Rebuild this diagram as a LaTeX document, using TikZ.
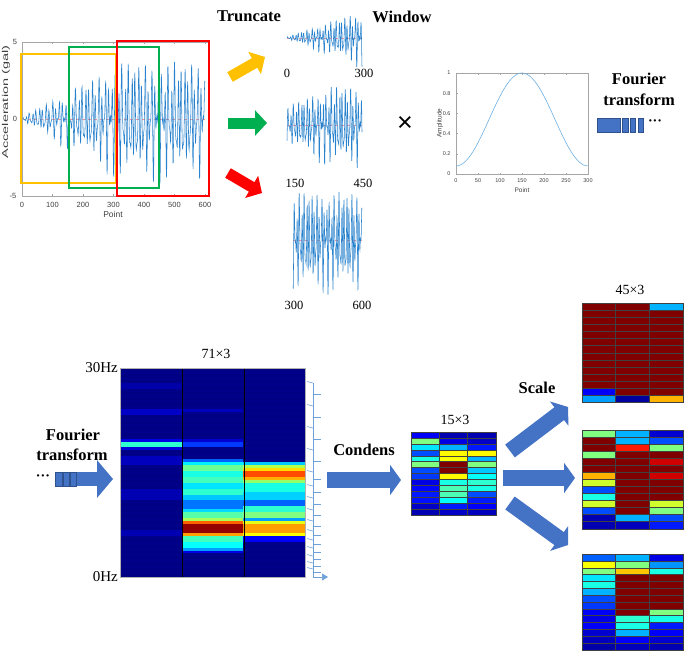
\documentclass[tikz,border=0pt]{standalone}
\usepackage{fontspec}
\setmainfont{Liberation Serif}
\setsansfont{Liberation Sans}
\usepackage{xcolor}
\usepackage{tikz}
\usetikzlibrary{
    arrows.meta
}

\definecolor{sigblue}{RGB}{40,130,205}
\definecolor{winblue}{RGB}{110,175,225}
\definecolor{ppblue}{RGB}{68,114,196}
\definecolor{ppedge}{RGB}{47,82,143}
\definecolor{brkblue}{RGB}{110,160,220}
\definecolor{trorange}{RGB}{255,192,0}
\definecolor{trgreen}{RGB}{0,176,80}
\definecolor{trred}{RGB}{255,0,0}

% jet カラーマップで塗る
\newcommand{\jetfill}[5]{%
  \pgfmathsetmacro{\jr}{max(0,min(1,1.5-abs(4*#5-3)))}%
  \pgfmathsetmacro{\jg}{max(0,min(1,1.5-abs(4*#5-2)))}%
  \pgfmathsetmacro{\jb}{max(0,min(1,1.5-abs(4*#5-1)))}%
  \definecolor{jetc}{rgb}{\jr,\jg,\jb}%
  \fill[jetc] ({#1},{#2}) rectangle ({#3},{#4});}

% 行列ブロック (x, y, セル幅, セル高さ, 値)
\newcommand{\heatblock}[5]{%
  \foreach \va/\vb/\vc [count=\i from 0] in {#5}{%
    \foreach \v [count=\j from 0] in {\va,\vb,\vc}{%
      \jetfill{#1+\j*#3}{#2+\i*#4}{#1+\j*#3+#3}{#2+\i*#4+#4}{\v}%
      \draw[cellline] ({#1+\j*#3},{#2+\i*#4}) rectangle ++(#3,#4);
    }}}

\begin{document}
\begin{tikzpicture}[x=1pt,y=-1pt,
    declare function={env(\t)=0.15+3.6*min(\t,330)/330;
      wv(\t,\k,\p)=sin(mod(\k*\t+\p,6.28319) r);
      acc(\t)=env(\t)*(0.55*wv(\t,0.58,0)+0.35*wv(\t,0.87,0.7)+0.25*wv(\t,0.33,0.17));},
    sig/.style={sigblue, line width=0.55pt},
    zeroline/.style={red!40, dashed, line width=0.4pt},
    axisbox/.style={gray!70, line width=0.4pt},
    ticklbl/.style={font=\sffamily\fontsize{7.5}{8}\selectfont, text=black!75},
    winlbl/.style={font=\sffamily\fontsize{5.5}{6}\selectfont, text=black!75},
    bigbold/.style={font=\bfseries\fontsize{16.5}{18}\selectfont},
    numlbl/.style={font=\fontsize{12.5}{14}\selectfont},
    sizelbl/.style={font=\fontsize{14}{16}\selectfont},
    fat/.style={line width=11pt, -{Triangle[length=12pt,width=25pt]}},
    bluearrow/.style={ppblue, line width=16pt, -{Triangle[length=11pt,width=30pt]}},
    bar/.style={fill=ppblue, draw=ppedge, line width=0.5pt},
    cellline/.style={draw=black!75, line width=0.4pt},
    brk/.style={brkblue, line width=0.6pt}]
  \useasboundingbox (0,0) rectangle (685,651);

  % 元の加速度波形
  \draw[zeroline] (22,119) -- (207,119);
  \draw[sig] plot[domain=0:600, samples=601] ({22+0.305*\x},{119-15.4*acc(\x)});
  \draw[axisbox] (22,196) -- (22,42) -- (208,42);
  \draw[axisbox] (22,196) -- (208,196);
  \foreach \t in {0,100,...,600} {
    \draw[axisbox] ({22+0.305*\t},196) -- ++(0,-2);
    \draw[axisbox] ({22+0.305*\t},42) -- ++(0,2);
    \node[ticklbl] (xt\t) at ({22+0.305*\t},205) {\t};
  }
  \foreach \yy in {42,119,196} \draw[axisbox] (22,\yy) -- ++(2,0);
  \node[ticklbl] (yt5) at (15,42) {5};
  \node[ticklbl] (yt0) at (15,119) {0};
  \node[ticklbl] (ytm5) at (13,196) {-5};
  \node[ticklbl, font=\sffamily\fontsize{8.5}{9}\selectfont, rotate=90, xscale=1.7] (ylbl) at (6,102) {Acceleration (gal)};
  \node[ticklbl, font=\sffamily\fontsize{8.5}{9}\selectfont] (xlbl) at (113,214) {Point};

  % 切り出し窓
  \draw[trorange, line width=2.2pt] (21,54) rectangle (116,183);
  \draw[trgreen, line width=2.2pt] (69,47) rectangle (159,188);
  \draw[trred, line width=2.2pt] (117,41) rectangle (209,196);

  \node[bigbold] (trunc) at (249,16) {Truncate};
  \node[bigbold] (window) at (402,17) {Window};

  \coordinate (oS) at (230,77);  \coordinate (oE) at (265,57);
  \coordinate (gS) at (228,123); \coordinate (gE) at (267,123);
  \coordinate (rS) at (228,173); \coordinate (rE) at (262,193);
  \draw[fat, trorange] (oS) -- (oE);
  \draw[fat, trgreen] (gS) -- (gE);
  \draw[fat, trred] (rS) -- (rE);

  % 切り出した波形
  \draw[zeroline] (287,38) -- (362,38);
  \draw[sig] plot[domain=0:300, samples=301] ({287+0.25*\x},{38-8*acc(\x)});
  \draw[zeroline] (287,125) -- (362,125);
  \draw[sig] plot[domain=150:450, samples=301] ({287+0.25*(\x-150)},{125-10.5*acc(\x)});
  \draw[zeroline] (293,240) -- (362,240);
  \draw[sig] plot[domain=300:600, samples=301] ({293+0.23*(\x-300)},{240-13*acc(\x)});
  \node[numlbl] (s1a) at (287,73) {0};
  \node[numlbl] (s1b) at (364,73) {300};
  \node[numlbl] (s2a) at (295,183) {150};
  \node[numlbl] (s2b) at (363,183) {450};
  \node[numlbl] (s3a) at (294,305) {300};
  \node[numlbl] (s3b) at (362,305) {600};

  \node[font=\sffamily\fontsize{27}{28}\selectfont] (times) at (405,124) {×};

  % 窓関数
  \draw[axisbox] (456,73) rectangle (588,174);
  \foreach \t in {0,50,...,300} {
    \draw[axisbox] ({456+0.44*\t},174) -- ++(0,-1.5);
    \draw[axisbox] ({456+0.44*\t},73) -- ++(0,1.5);
    \node[winlbl] (wx\t) at ({456+0.44*\t},181) {\t};
  }
  \foreach \a/\l in {0/0,1/0.2,2/0.4,3/0.6,4/0.8,5/1} {
    \draw[axisbox] (456,{174-20.2*\a}) -- ++(1.5,0);
    \node[winlbl, anchor=east] (wy\a) at (454,{174-20.2*\a}) {\l};
  }
  \node[winlbl, font=\sffamily\fontsize{6.5}{7}\selectfont, rotate=90] (wylbl) at (440,123) {Amplitude};
  \node[winlbl, font=\sffamily\fontsize{6.5}{7}\selectfont] (wxlbl) at (522,190) {Point};
  \draw[winblue, line width=0.6pt] plot[domain=0:300, samples=121] ({456+0.44*\x},{174-101*(0.54-0.46*cos(1.2*\x))});

  \node[bigbold] (ft1) at (639,79) {Fourier};
  \node[bigbold] (ft2) at (639,100) {transform};
  \draw[bar] (597,118) rectangle (620,132);
  \draw[bar] (622,118) rectangle (628,132);
  \draw[bar] (630,118) rectangle (635,132);
  \draw[bar] (638,118) rectangle (643,132);
  \node[font=\bfseries\fontsize{14}{14}\selectfont] (dots1) at (655,123) {···};

  % スペクトログラム
  \foreach \r in {0,...,70}
    \jetfill{120}{368+\r*2.944}{305}{368+(\r+1)*2.944}{0.005+0.015*mod(\r,2)}
  \foreach \c/\ra/\rb/\v in {1/5/6/0.04, 1/14/15/0.07, 1/24/24/0.1, 1/25/26/0.42, 1/27/27/0.09,
      1/30/32/0.06, 1/41/44/0.05, 1/55/56/0.05,
      2/14/14/0.06, 2/24/24/0.08, 2/25/26/0.18, 2/31/31/0.22, 2/32/32/0.36, 2/33/34/0.48,
      2/35/36/0.4, 2/37/38/0.44, 2/39/40/0.35, 2/41/42/0.42, 2/43/44/0.32, 2/45/47/0.24,
      2/48/48/0.34, 2/49/50/0.46, 2/51/51/0.54, 2/52/52/0.78, 2/53/55/0.98, 2/56/56/0.72,
      2/57/58/0.44, 2/59/60/0.38, 2/61/61/0.28, 2/62/62/0.1,
      3/32/32/0.32, 3/33/33/0.55, 3/34/34/0.66, 3/35/36/0.8, 3/37/37/0.7, 3/38/38/0.52,
      3/39/41/0.4, 3/42/44/0.33, 3/45/46/0.22, 3/47/48/0.42, 3/49/50/0.5, 3/51/51/0.28,
      3/52/52/0.6, 3/53/55/0.72, 3/56/56/0.62, 3/57/58/0.12}
    \jetfill{120+(\c-1)*61.67}{368+\ra*2.944}{120+\c*61.67}{368+(\rb+1)*2.944}{\v}
  \draw[black, line width=0.6pt] (182,368) -- (182,577) (244,368) -- (244,577);
  \draw[gray!60, line width=0.4pt] (120,368) rectangle (305,577);
  \node[sizelbl] (spsize) at (216,354) {71×3};
  \node[font=\fontsize{15}{16}\selectfont, anchor=east, inner sep=1pt] (hz30) at (119,368) {30Hz};
  \node[font=\fontsize{15}{16}\selectfont, anchor=east, inner sep=1pt] (hz0) at (119,577) {0Hz};

  % 周波数帯のまとめ
  \draw[brk] (313,383) -- (313,577);
  \foreach \b/\n in {383/406, 406/428, 428/450, 450/472, 472/486, 486/498, 498/510, 510/521,
      521/531, 531/540, 540/548, 548/556, 556/563, 563/569, 569/575} {
    \draw[brk] (307,\b-1.5) -- (313,\b);
    \draw[brk] (313,{(\b+\n)/2}) -- (321,{(\b+\n)/2});
  }
  \draw[brk, -{Triangle[length=6pt,width=7pt]}] (313,577) -- (328,577);

  \node[bigbold] (ft3) at (73,435) {Fourier};
  \node[bigbold] (ft4) at (72,455) {transform};
  \node[font=\bfseries\fontsize{14}{14}\selectfont] (dots2) at (43,478) {···};
  \draw[bar] (55,472) rectangle (62,486);
  \draw[bar] (63,472) rectangle (69,486);
  \draw[bar] (70,472) rectangle (76,486);
  \coordinate (fS) at (77,479); \coordinate (fE) at (113,479);
  \draw[ppblue, line width=14pt, -{Triangle[length=16pt,width=37pt]}] (fS) -- (fE);

  % 圧縮
  \node[bigbold] (cond) at (364,450) {Condens};
  \coordinate (cS) at (327,480); \coordinate (cE) at (401,480);
  \draw[bluearrow] (cS) -- (cE);
  \node[sizelbl] (csize) at (455,420) {15×3};
  \heatblock{411}{432}{28.33}{5.93}{0.12/0.05/0.05, 0.5/0.1/0.07, 0.35/0.3/0.15, 0.2/0.63/0.63,
    0.4/0.62/0.3, 0.5/1/0.5, 0.2/1/0.32, 0.18/0.63/0.38, 0.1/0.4/0.42, 0.13/0.45/0.4,
    0.15/0.45/0.2, 0.14/0.38/0.15, 0.07/0.15/0.12, 0.05/0.07/0.06}

  % スケーリング
  \node[bigbold] (scale) at (537,388) {Scale};
  \coordinate (uS) at (510,451); \coordinate (uE) at (568,407);
  \coordinate (mS) at (503,478); \coordinate (mE) at (575,478);
  \coordinate (dS) at (510,503); \coordinate (dE) at (568,545);
  \draw[bluearrow] (uS) -- (uE);
  \draw[bluearrow] (mS) -- (mE);
  \draw[bluearrow] (dS) -- (dE);

  \node[sizelbl] (ssize) at (630,290) {45×3};
  \heatblock{582}{303}{33.67}{7.1}{1/1/0.3, 1/1/1, 1/1/1, 1/1/1, 1/1/1, 1/1/1, 1/1/1, 1/1/1,
    1/1/1, 1/1/1, 1/1/1, 1/1/1, 0.12/1/1, 0.28/0.03/0.7}
  \heatblock{582}{430}{33.67}{7.05}{0.5/0.3/0.08, 1/0.3/0.2, 1/0.85/0.5, 0.5/1/1, 1/1/0.92,
    1/1/1, 0.7/1/0.92, 0.58/1/1, 0.2/1/1, 0.4/1/1, 0.58/1/0.58, 0.2/1/0.5, 0.05/0.3/0.2, 0.05/0.06/0.15}
  \heatblock{582}{554}{33.67}{6.85}{0.22/0.3/0.1, 0.62/0.5/0.27, 0.5/0.68/0.4, 0.35/1/1, 0.4/1/1,
    0.3/1/1, 0.2/1/1, 0.18/1/1, 0.12/1/0.5, 0.1/0.42/0.4, 0.12/0.4/0.15, 0.08/0.3/0.12,
    0.06/0.12/0.08, 0.04/0.06/0.05}
\end{tikzpicture}
\end{document}
